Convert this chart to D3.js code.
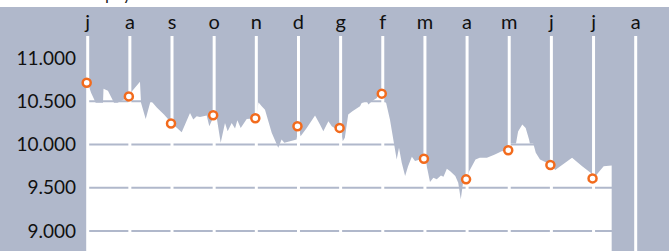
<!DOCTYPE html>
<html>
<head>
<meta charset="utf-8">
<script src="https://cdn.jsdelivr.net/npm/d3@7"></script>
<style>
    body { margin: 0; background: #fff; }
    svg { display: block; font-family: Lato, "Open Sans", sans-serif; }
</style>
</head>
<body>
<div id="chart"></div>
<script>
// month labels (Italian initials), one per vertical guide
const months = ["j", "a", "s", "o", "n", "d", "g", "f", "m", "a", "m", "j", "j", "a"];

// value at the start of each month (orange markers)
const monthlyValues = [10714, 10556, 10242, 10338, 10303, 10211, 10192, 10588, 9835, 9597, 9934, 9762, 9608];

// daily series: position in months from the first guide, and value
const seriesMonth = [
    0, 0.08, 0.19, 0.363, 0.375, 0.48, 0.624, 0.707, 1.0, 1.06, 1.24, 1.265, 1.376, 1.495, 1.644, 1.81,
    2.0, 2.23, 2.427, 2.505, 2.586, 2.664, 2.823, 2.885,
    3.0, 3.06, 3.155, 3.257, 3.32, 3.416, 3.495, 3.55, 3.63, 3.772,
    4.0, 4.05, 4.128, 4.206, 4.365, 4.52, 4.6, 4.664, 4.8, 4.955,
    5.0, 5.05, 5.196, 5.393, 5.51, 5.59, 5.71, 5.79, 5.91,
    6.0, 6.05, 6.1, 6.18, 6.28, 6.46, 6.5, 6.62, 6.66, 6.74, 6.86, 6.91,
    7.0, 7.04, 7.08, 7.17, 7.27, 7.33, 7.385, 7.45, 7.53, 7.6, 7.69, 7.765, 7.885,
    8.0, 8.06, 8.12, 8.2, 8.28, 8.38, 8.44, 8.52, 8.6, 8.72, 8.79, 8.85, 8.91,
    9.0, 9.05, 9.2, 9.3, 9.47, 9.66, 9.82,
    10.0, 10.03, 10.16, 10.21, 10.31, 10.39, 10.47, 10.49, 10.57, 10.63, 10.73, 10.89,
    11.0, 11.09, 11.49, 11.73, 11.93,
    12.0, 12.14, 12.24, 12.43
];
const seriesValues = [
    10714, 10599, 10484, 10484, 10645, 10622, 10484, 10484, 10556, 10622, 10726, 10484, 10296, 10510, 10426, 10346,
    10242, 10142, 10365, 10288, 10326, 10319, 10334, 10211,
    10338, 10311, 10020, 10250, 10153, 10250, 10184, 10280, 10192, 10296,
    10303, 10487, 10441, 10403, 10135, 9962, 10058, 10020, 10038, 10058,
    10211, 10096, 10192, 10334, 10230, 10153, 10268, 10211, 10173,
    10192, 10038, 10077, 10346, 10384, 10441, 10480, 10499, 10461, 10499, 10538, 10603,
    10588, 10499, 10480, 10288, 10000, 9827, 9962, 9789, 9635, 9750, 9858, 9808, 9827,
    9835, 9712, 9566, 9616, 9597, 9643, 9628, 9720, 9692, 9635, 9559, 9366, 9577,
    9597, 9692, 9827, 9847, 9847, 9885, 9923,
    9934, 10012, 10012, 10150, 10230, 10192, 10058, 10012, 10012, 9904, 9827, 9789,
    9762, 9704, 9847, 9750, 9674,
    9608, 9692, 9750, 9758
];

const yTicks = [9000, 9500, 10000, 10500, 11000];

const width = 669, height = 251;
const bg = "#b0b8cb";

const itFormat = d3.formatLocale({ decimal: ",", thousands: ".", grouping: [3], currency: ["€", ""] }).format(",.0f");

const x = d3.scaleLinear().domain([0, 13]).range([87.7, 635.7]);
const y = d3.scaleLinear().domain([9000, 11000]).range([231, 58]);

const svg = d3.select("#chart").append("svg")
    .attr("width", width)
    .attr("height", height);

// title sits above the picture, only its descenders show
svg.append("text")
    .attr("x", 105)
    .attr("y", -0.5)
    .attr("font-size", 17)
    .attr("fill", "#222")
    .text("pay");

svg.append("rect")
    .attr("x", 0)
    .attr("y", 7)
    .attr("width", width)
    .attr("height", height - 7)
    .attr("fill", bg);

const series = seriesMonth.map((m, i) => ({ m: m, v: seriesValues[i] }));

const area = d3.area()
    .x(d => x(d.m))
    .y0(height + 10)
    .y1(d => y(d.v));

svg.append("path")
    .datum(series)
    .attr("fill", "#fff")
    .attr("d", area);

// horizontal grid
svg.append("g")
    .selectAll("line")
    .data(yTicks)
    .enter()
    .append("line")
    .attr("x1", 88)
    .attr("x2", width)
    .attr("y1", d => y(d))
    .attr("y2", d => y(d))
    .attr("stroke", bg)
    .attr("stroke-width", 2);

// monthly guides
svg.append("g")
    .selectAll("line")
    .data(months)
    .enter()
    .append("line")
    .attr("x1", (d, i) => x(i))
    .attr("x2", (d, i) => x(i))
    .attr("y1", 36)
    .attr("y2", height)
    .attr("stroke", "#fff")
    .attr("stroke-width", 3);

svg.append("g")
    .selectAll("text")
    .data(months)
    .enter()
    .append("text")
    .attr("x", (d, i) => x(i))
    .attr("y", 29)
    .attr("text-anchor", "middle")
    .attr("font-size", 20)
    .attr("fill", "#111")
    .text(d => d);

svg.append("g")
    .selectAll("text")
    .data(yTicks)
    .enter()
    .append("text")
    .attr("x", 76)
    .attr("y", d => y(d))
    .attr("dy", "0.35em")
    .attr("text-anchor", "end")
    .attr("font-size", 19)
    .attr("fill", "#111")
    .text(d => itFormat(d));

svg.append("g")
    .selectAll("circle")
    .data(monthlyValues)
    .enter()
    .append("circle")
    .attr("cx", (d, i) => x(i) - 1)
    .attr("cy", d => y(d))
    .attr("r", 4)
    .attr("fill", "#fff")
    .attr("stroke", "#f26b1d")
    .attr("stroke-width", 2.5);
</script>
</body>
</html>
